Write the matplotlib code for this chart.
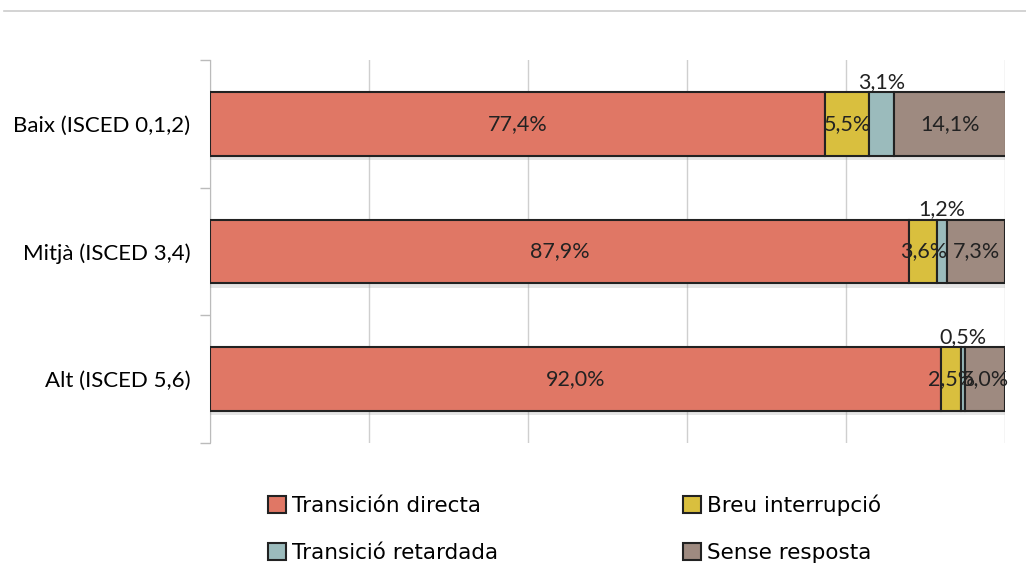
import matplotlib
matplotlib.use("Agg")
import matplotlib.pyplot as plt
import matplotlib.patheffects as pe
from matplotlib.lines import Line2D

categories = ["Baix (ISCED 0,1,2)", "Mitjà (ISCED 3,4)", "Alt (ISCED 5,6)"]
series = ["Transición directa", "Breu interrupció", "Transició retardada", "Sense resposta"]
directa = [77.4, 87.9, 92.0]
breu = [5.5, 3.6, 2.5]
retardada = [3.1, 1.2, 0.5]
sense = [14.1, 7.3, 5.0]
colors = ["#E07765", "#D9BF3E", "#9BBBBC", "#9E8A80"]

plt.rcParams["font.family"] = ["Lato", "DejaVu Sans"]

fig = plt.figure(figsize=(10.26, 5.66), dpi=100)
ax = fig.add_axes([0.2047, 0.2173, 0.7749, 0.6767])

values = [directa, breu, retardada, sense]
y = list(range(len(categories)))
left = [0.0] * len(categories)
shadow = [pe.SimplePatchShadow(offset=(0, -3), shadow_rgbFace="#999999", alpha=0.25), pe.Normal()]
for i, (name, vals) in enumerate(zip(series, values)):
    bars = ax.barh(y, vals, left=left, height=0.5, color=colors[i], edgecolor="#222222",
                   linewidth=1.5, label=name, zorder=3)
    for b in bars:
        b.set_path_effects(shadow)
    for j, v in enumerate(vals):
        cx = left[j] + v / 2
        txt = f"{v:.1f}%".replace(".", ",")
        if i == 2:
            ax.annotate(txt, (cx, j - 0.25), xytext=(0, 0), textcoords="offset points",
                        ha="center", va="bottom", fontsize=15.5, color="#222222", zorder=5)
        else:
            ax.text(cx, j, txt, ha="center", va="center", fontsize=15.5, color="#222222", zorder=5)
    left = [l + v for l, v in zip(left, vals)]

ax.set_xlim(0, 100)
ax.set_ylim(2.5, -0.5)
ax.set_xticks([0, 20, 40, 60, 80, 100])
ax.set_xticklabels([])
ax.tick_params(axis="x", length=0)
ax.grid(axis="x", color="#CFCFCF", linewidth=1, zorder=0)
ax.set_yticks(y)
ax.set_yticklabels(categories, fontsize=16)
ax.tick_params(axis="y", length=0, pad=14)
ax.set_yticks([-0.5, 0.5, 1.5, 2.5], minor=True)
ax.tick_params(axis="y", which="minor", length=7, color="#BBBBBB", width=1)
for s in ["top", "right", "bottom"]:
    ax.spines[s].set_visible(False)
ax.spines["left"].set_color("#BBBBBB")

handles, labels = ax.get_legend_handles_labels()
order = [0, 2, 1, 3]
leg = fig.legend([handles[k] for k in order], [labels[k] for k in order],
                 loc="center", bbox_to_anchor=(0.56, 0.0655), ncol=2,
                 frameon=False, prop={"family": "DejaVu Sans", "size": 15.5},
                 handlelength=0.85, handleheight=0.85,
                 handletextpad=0.25, columnspacing=8.6, labelspacing=1.25)
for h in leg.legend_handles:
    h.set_path_effects([])

# thin rule under the (cropped) title
fig.add_artist(Line2D([0.004, 1.0], [1 - 11 / 566, 1 - 11 / 566], color="#CCCCCC", linewidth=1.2))

fig.savefig("out.png", dpi=100)
